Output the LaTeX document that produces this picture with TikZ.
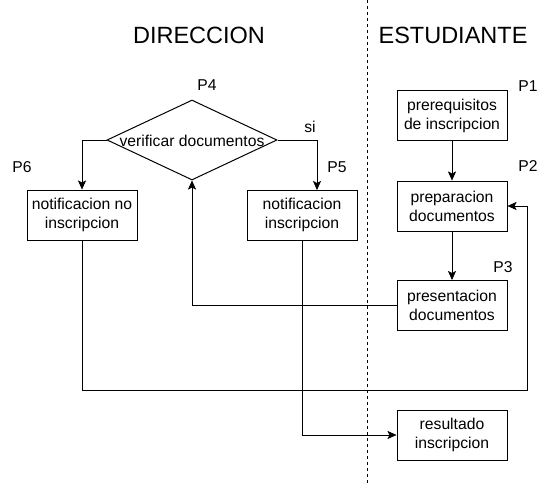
\documentclass[tikz,border=0pt]{standalone}
\usepackage{fontspec}
\setmainfont{Liberation Sans}
\usetikzlibrary{shapes.geometric,arrows.meta}
\newcommand{\myBody}{\fontsize{15.7pt}{19pt}\selectfont}
\newcommand{\myHead}{\fontsize{23.5pt}{28pt}\selectfont}
\begin{document}
\begin{tikzpicture}[x=1pt,y=-1pt,
  box/.style={draw, line width=1pt, minimum width=110pt, minimum height=50pt, inner sep=0pt, align=center, font=\myBody},
  lbl/.style={font=\myBody, inner sep=0pt},
  head/.style={font=\myHead, inner sep=0pt},
  conn/.style={line width=1pt},
  arr/.style={conn, -{Stealth[length=9pt,width=8pt,inset=2pt,line width=0.5pt]}},
  sep/.style={line width=1pt, dash pattern=on 3pt off 3pt},
]
\useasboundingbox (0,0) rectangle (551,483);
\fill[white] (0,0) rectangle (551,483);

% lane separator
\draw[sep] (367,0) -- (367,483);

% headings
\node[head] (hdir) at (199,35) {DIRECCION};
\node[head] (hest) at (453,35) {ESTUDIANTE};

% boxes
\node[box] (pre)  at (452,115.5) {prerequisitos\\de inscripcion};
\node[box] (prep) at (452,206) {preparacion\\documentos};
\node[box] (pres) at (452,305.5) {presentacion\\documentos};
\node[box] (res)  at (452,435) {resultado\\inscripcion};
\node[box] (nno)  at (82,215) {notificacion no\\inscripcion};
\node[box] (nsi)  at (302,215) {notificacion\\inscripcion};

% decision
\node[diamond, draw, line width=1pt, minimum width=170pt, minimum height=80pt, inner sep=0pt] (dia) at (192,140) {};
\node[lbl] (diat) at (192,141) {verificar documentos};

% labels
\node[lbl] (p1) at (528,86) {P1};
\node[lbl] (p2) at (528,166) {P2};
\node[lbl] (p3) at (503,267) {P3};
\node[lbl] (p4) at (207,85) {P4};
\node[lbl] (p5) at (337,167) {P5};
\node[lbl] (p6) at (22,167) {P6};
\node[lbl] (si) at (310,127) {si};

% connectors
\coordinate (siin) at (317,190);
\coordinate (loop) at (527,390);
\draw[arr] (pre.south) -- (prep.north);
\draw[arr] (prep.south) -- (pres.north);
\draw[arr] (pres.west) -| (dia.south);
\draw[arr] (dia.west) -| (nno.north);
\draw[arr] (dia.east) -| (siin);
\draw[arr] (nno.south) |- (loop) |- (prep.east);
\draw[arr] (nsi.south) |- (res.west);
\end{tikzpicture}
\end{document}
